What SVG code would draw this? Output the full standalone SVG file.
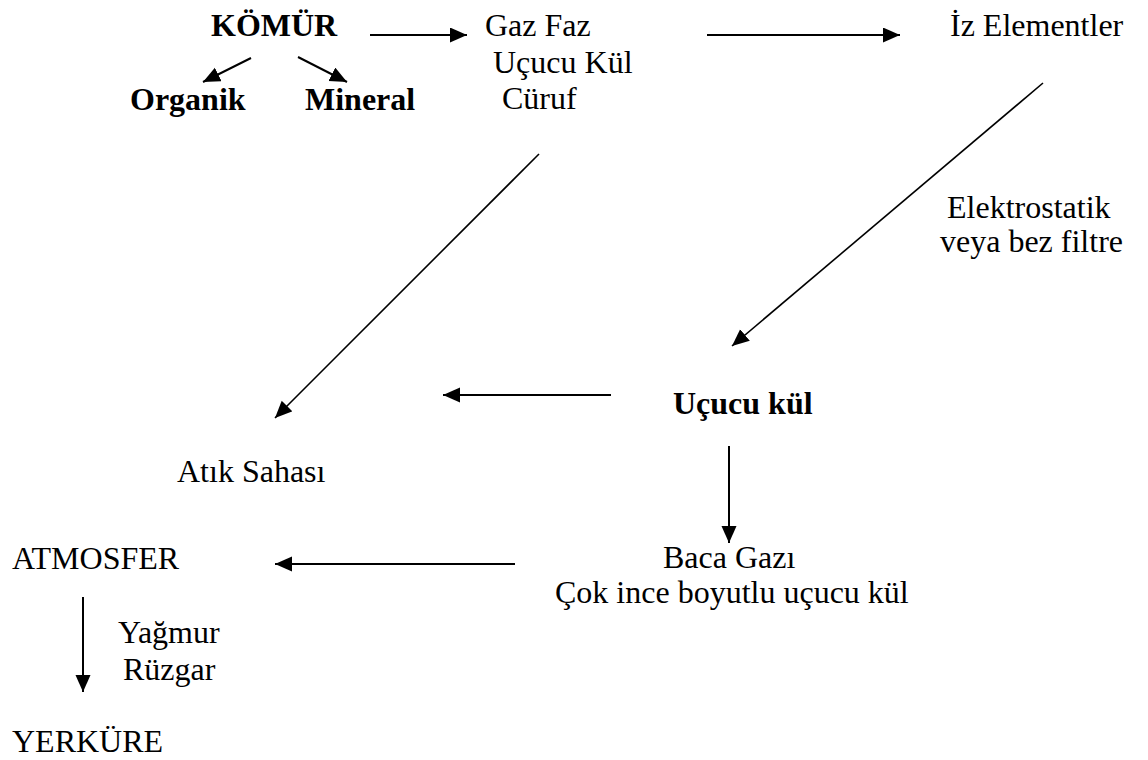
<svg xmlns="http://www.w3.org/2000/svg" width="1148" height="760" viewBox="0 0 1148 760">
<defs>
<marker id="ah" markerUnits="userSpaceOnUse" markerWidth="18" markerHeight="16" refX="17" refY="7.5" orient="auto">
<path d="M0,0 L17,7.5 L0,15 z" fill="#000"/>
</marker>
<style>
.c{stroke:#000;stroke-width:2;fill:none;marker-end:url(#ah)}
.d{stroke-width:1.6}
</style>
</defs>
<rect width="1148" height="760" fill="#fff"/>
<g id="komur"><text x="211" y="36" font-family="Liberation Serif" font-size="32" font-weight="bold">KÖMÜR</text></g>
<g id="organik"><text x="130" y="110" font-family="Liberation Serif" font-size="32" font-weight="bold">Organik</text></g>
<g id="mineral"><text x="305" y="110" font-family="Liberation Serif" font-size="32" font-weight="bold">Mineral</text></g>
<g id="urunler">
<text x="485" y="36" font-family="Liberation Serif" font-size="32">Gaz Faz</text>
<text x="493" y="73" font-family="Liberation Serif" font-size="32">Uçucu Kül</text>
<text x="502" y="109" font-family="Liberation Serif" font-size="32">Cüruf</text>
</g>
<g id="iz"><text x="950" y="36" font-family="Liberation Serif" font-size="32">İz Elementler</text></g>
<g id="filtre">
<text x="947" y="218" font-family="Liberation Serif" font-size="32">Elektrostatik</text>
<text x="940" y="252" font-family="Liberation Serif" font-size="32">veya bez filtre</text>
</g>
<g id="ucucukul"><text x="673" y="414" font-family="Liberation Serif" font-size="32" font-weight="bold">Uçucu kül</text></g>
<g id="atik"><text x="177" y="482" font-family="Liberation Serif" font-size="32">Atık Sahası</text></g>
<g id="baca">
<text x="663" y="568" font-family="Liberation Serif" font-size="32">Baca Gazı</text>
<text x="555" y="603" font-family="Liberation Serif" font-size="32">Çok ince boyutlu uçucu kül</text>
</g>
<g id="atmosfer"><text x="12" y="569" font-family="Liberation Serif" font-size="32">ATMOSFER</text></g>
<g id="yagmur">
<text x="118" y="643" font-family="Liberation Serif" font-size="32">Yağmur</text>
<text x="123" y="680" font-family="Liberation Serif" font-size="32">Rüzgar</text>
</g>
<g id="yerkure"><text x="12" y="752" font-family="Liberation Serif" font-size="32">YERKÜRE</text></g>
<g id="connectors">
<line class="c" x1="251" y1="58" x2="203" y2="82"/>
<line class="c" x1="298" y1="57" x2="347" y2="82"/>
<line class="c" x1="370" y1="35" x2="467" y2="35"/>
<line class="c" x1="707" y1="35" x2="900" y2="35"/>
<line class="c d" x1="539" y1="154" x2="275" y2="418"/>
<line class="c d" x1="1043" y1="83" x2="732" y2="346"/>
<line class="c" x1="611" y1="395" x2="443" y2="395"/>
<line class="c" x1="729" y1="446" x2="729" y2="543"/>
<line class="c" x1="515" y1="564" x2="275" y2="564"/>
<line class="c" x1="83" y1="597" x2="83" y2="692"/>
</g>
</svg>
